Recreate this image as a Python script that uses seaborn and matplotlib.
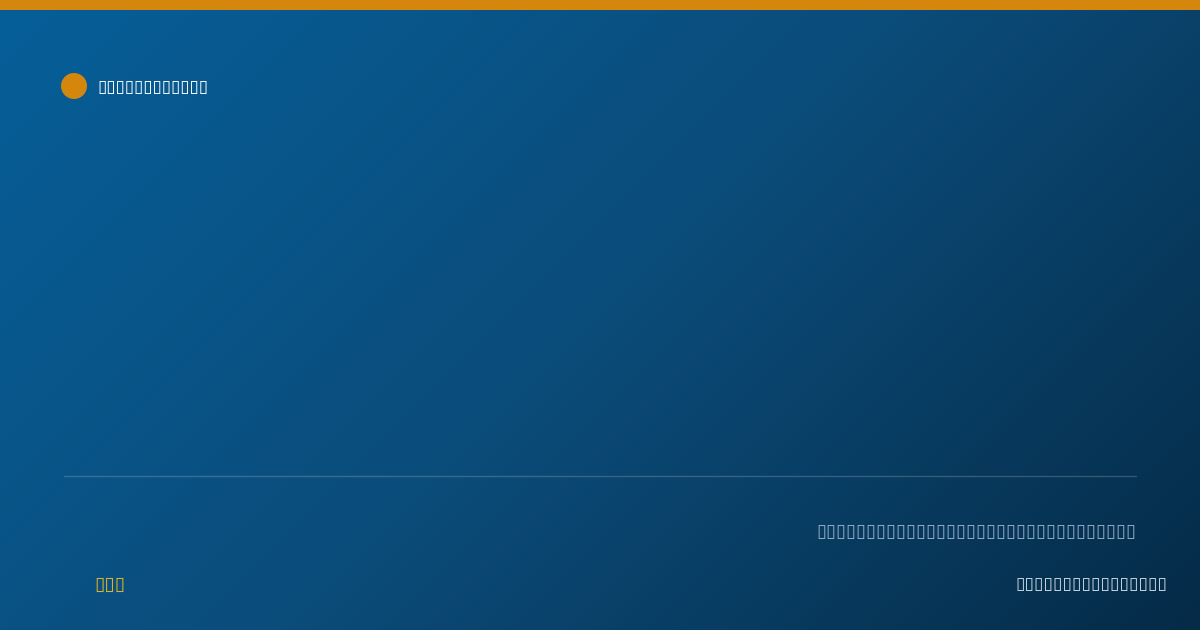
import matplotlib.pyplot as plt
import numpy as np
import seaborn as sns
from matplotlib.colors import LinearSegmentedColormap
from matplotlib.patches import Circle, Rectangle

# text as it shows in the reference: every glyph is an empty box
title_text = "▯" * 12
description_text = "▯" * 32
site_text = "▯" * 3
footer_text = "▯" * 16

gradient_stops = ["#065f99", "#0b4c7a", "#052b47"]

W, H = 1200, 630

sns.set_theme(style="white")
plt.rcParams["font.family"] = ["DejaVu Sans"]

fig = plt.figure(figsize=(12, 6.3), dpi=100)
ax = fig.add_axes([0, 0, 1, 1])
ax.set_xlim(0, W)
ax.set_ylim(H, 0)
ax.axis("off")

# 135deg css-style background gradient
xx, yy = np.meshgrid(np.arange(W) + 0.5, np.arange(H) + 0.5)
span = (W + H) * np.sqrt(0.5)
t = 0.5 + ((xx - W / 2) + (yy - H / 2)) * np.sqrt(0.5) / span
cmap = LinearSegmentedColormap.from_list("bg", gradient_stops)
ax.imshow(t, cmap=cmap, extent=(0, W, H, 0), vmin=0, vmax=1, aspect="auto", zorder=0)

# top accent bar
ax.add_patch(Rectangle((0, 0), W, 10, color="#d4870c", lw=0, zorder=2))

# badge + title
ax.add_patch(Circle((74, 86), 13, color="#d4870c", lw=0, zorder=2))
ax.text(97, 87, title_text, color="white", fontsize=12.2, fontweight="bold",
        ha="left", va="center", zorder=3)

# divider
ax.plot([64, 1136], [476, 476], color="white", alpha=0.18, lw=1, zorder=2)

ax.text(1136, 532, description_text, color="#8ea8c3", fontsize=13.1,
        ha="right", va="center", zorder=3)
ax.text(94, 584, site_text, color="#e0b226", fontsize=13.5,
        ha="left", va="center", zorder=3)
ax.text(1167, 584, footer_text, color="#c9d7e3", fontsize=12.4,
        ha="right", va="center", zorder=3)

fig.savefig("out.png", dpi=100)
plt.close(fig)
